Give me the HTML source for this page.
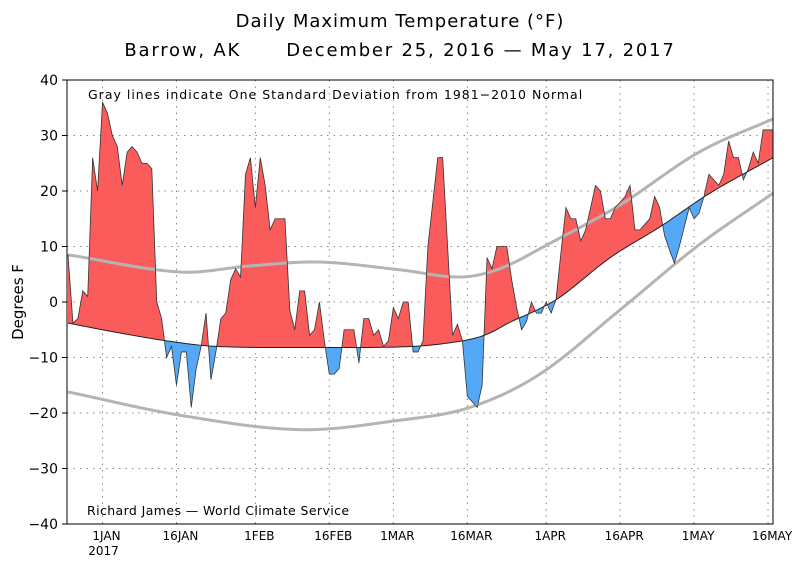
<!DOCTYPE html>
<html><head><meta charset="utf-8"><style>
body{margin:0;background:#fff;}
svg{display:block;font-family:"DejaVu Sans","Liberation Sans",sans-serif;}
</style></head><body>
<svg id="chart" width="800" height="567" viewBox="0 0 800 567">
<text x="400" y="27" text-anchor="middle" font-size="18" letter-spacing="1">Daily Maximum Temperature (°F)</text>
<text x="400" y="56" text-anchor="middle" font-size="18" letter-spacing="1.8" xml:space="preserve">Barrow, AK      December 25, 2016 — May 17, 2017</text>
<text transform="translate(23,302) rotate(-90)" text-anchor="middle" font-size="15">Degrees F</text>
<g id="grid"></g><g id="fills"></g><g id="lines"></g><g id="axes"></g>
<text x="88" y="99" font-size="12.5" letter-spacing="1">Gray lines indicate One Standard Deviation from 1981−2010 Normal</text>
<text x="87" y="515" font-size="12.5" letter-spacing="0.4">Richard James — World Climate Service</text>
<rect x="67" y="80" width="706" height="444" fill="none" stroke="#000" stroke-width="1"/>
</svg>
<script>
const temps=[8.5,-3.8,-3,2,1,26,20,36,34,30,28,21,27,28,27,25,25,24,0,-3,-10,-8,-15,-9,-9,-19,-12,-8,-2,-14,-9,-3,-2,4,6,4.5,23,26,17,26,21,13,15,15,15,-1.5,-5,2,2,-6,-5,0,-7,-13,-13,-12,-5,-5,-5,-11,-3,-3,-6,-5,-8,-7,-1,-3,0,0,-9,-9,-7,10,18,26,26,10,-6,-4,-7,-17,-18,-19,-15,8,6,10,10,10,4,-1,-5,-3.5,0,-2,-2,0,-2,0.5,9,17,15,15,11,13,17,21,20,15,15,17,18,19,21,13,13,14,15,19,17,12,9.4,7,10,13.5,17,15,16,19,23,22,21,23,29,26,26,22,24,27,25,31,31,31];
const normDays=[0,10,20,30,50,70,80,85,90,95,100,110,120,130,143];
const normVals=[-3.8,-5.5,-7,-8,-8.2,-8,-7,-5.8,-3.5,-1.5,1,8,13.5,19.5,26];
const upDays=[0,22.7,36.9,51,67.3,79.5,87.6,97.8,112,128,143];
const upVals=[8.5,5.4,6.5,7.2,5.8,4.5,6,10.6,17.5,27,33];
const loDays=[0,22.7,47,67.3,81.5,95.7,112,128,143];
const loVals=[-16.2,-20.4,-23,-21.3,-19,-13,-1.4,10.3,19.6];
const yTicks=[40,30,20,10,0,-10,-20,-30,-40];
const xTickDays=[7,22,38,53,66,81,97,112,127,142];
const xTickLabels=['1JAN','16JAN','1FEB','16FEB','1MAR','16MAR','1APR','16APR','1MAY','16MAY'];

const NS='http://www.w3.org/2000/svg';
const X=d=>68+4.93*d;
const Y=v=>302-5.55*v;
// Catmull-Rom style smooth interpolation through knots
function interp(ds,vs,d){
  const n=ds.length;
  if(d<=ds[0])return vs[0];if(d>=ds[n-1])return vs[n-1];
  let i=0;while(d>ds[i+1])i++;
  const h=ds[i+1]-ds[i],t=(d-ds[i])/h;
  const slope=k=>{if(k===0)return (vs[1]-vs[0])/(ds[1]-ds[0]);if(k===n-1)return (vs[n-1]-vs[n-2])/(ds[n-1]-ds[n-2]);return (vs[k+1]-vs[k-1])/(ds[k+1]-ds[k-1]);};
  const m0=slope(i)*h,m1=slope(i+1)*h,t2=t*t,t3=t2*t;
  return (2*t3-3*t2+1)*vs[i]+(t3-2*t2+t)*m0+(-2*t3+3*t2)*vs[i+1]+(t3-t2)*m1;
}
function mk(tag,attrs,parent){const e=document.createElementNS(NS,tag);for(const k in attrs)e.setAttribute(k,attrs[k]);parent.appendChild(e);return e;}
const grid=document.getElementById('grid'),fills=document.getElementById('fills'),lines=document.getElementById('lines'),axes=document.getElementById('axes');
yTicks.forEach(v=>{
  if(v<40&&v>-40){const g=mk('line',{x1:67,x2:773,y1:Y(v),y2:Y(v),stroke:'#888','stroke-width':1,'stroke-dasharray':'1.5,5'},grid);
  
  }
  const t=mk('text',{x:58,y:Y(v)+5,'text-anchor':'end','font-size':14},axes);t.textContent=String(v).replace('-','−');
  
  
  const tk=mk('line',{x1:62,x2:67,y1:Y(v),y2:Y(v),stroke:'#000'},axes);
  
  
});
xTickDays.forEach((d,i)=>{
  const g=mk('line',{x1:X(d),x2:X(d),y1:80,y2:524,stroke:'#888','stroke-width':1,'stroke-dasharray':'1.5,5'},grid);
  
  
  const t=mk('text',{x:X(d)+4,y:540,'text-anchor':'middle','font-size':12},axes);t.textContent=xTickLabels[i];
  
  
});
const yr=mk('text',{x:X(7)+1,y:555,'text-anchor':'middle','font-size':12},axes);yr.textContent='2017';


const pts=[];
for(let i=0;i<temps.length;i++){
  const n=interp(normDays,normVals,i);pts.push([i,temps[i],n]);
  if(i<temps.length-1){const n2=interp(normDays,normVals,i+1);const a=temps[i]-n,b=temps[i+1]-n2;
    if(a*b<0){const t=a/(a-b);const d=i+t;const nv=interp(normDays,normVals,d);pts.push([d,nv,nv]);}}
}
function area(fn,color,name){
  let top=pts.map(p=>X(p[0])+','+Y(fn(p[1],p[2]))),bot=pts.slice().reverse().map(p=>X(p[0])+','+Y(p[2]));
  const e=mk('polygon',{points:top.concat(bot).join(' '),fill:color},fills);
  
  
}
area(Math.max,'#fa5b5b','above-normal-fill');
area(Math.min,'#55a8f7','below-normal-fill');
function curve(ds,vs,color,w,name){
  const p=[];for(let d=0;d<=143;d+=0.5)p.push(X(d)+','+Y(interp(ds,vs,d)));
  const e=mk('polyline',{points:p.join(' '),fill:'none',stroke:color,'stroke-width':w},lines);
  
  
}
curve(upDays,upVals,'#b4b4b4',3,'upper-sd-line');
curve(loDays,loVals,'#b4b4b4',3,'lower-sd-line');
curve(normDays,normVals,'#222',1,'normal-line');
const tl=mk('polyline',{points:temps.map((v,i)=>X(i)+','+Y(v)).join(' '),fill:'none',stroke:'#333','stroke-width':0.8},lines);


</script>
</body></html>
